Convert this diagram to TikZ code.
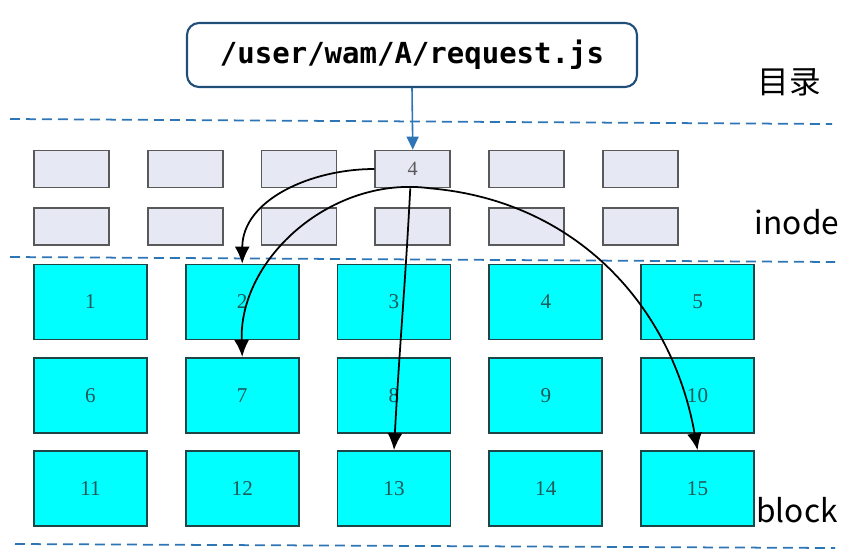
\documentclass[tikz,border=0pt]{standalone}
\usepackage{fontspec}
\setmainfont{Noto Sans CJK SC}
\newfontfamily\numfont{Liberation Serif}
\newfontfamily\pathfont{DejaVu Sans Mono}
\usetikzlibrary{arrows.meta,positioning}

\definecolor{lineblue}{HTML}{2E75B6}
\definecolor{boxblue}{HTML}{1F4E79}
\definecolor{inodefill}{HTML}{E6E8F4}
\definecolor{blockfill}{HTML}{00FFFF}
\definecolor{blockdraw}{HTML}{1E4646}
\definecolor{numcolor}{HTML}{1F5858}

\begin{document}
\begin{tikzpicture}[
    node distance=0.37cm and 0.74cm,
    inode/.style={draw=black!65, line width=1pt, fill=inodefill, minimum width=1.5cm, minimum height=0.74cm, inner sep=0pt, font=\numfont\fontsize{11.5}{13}\selectfont, text=black!65},
    block/.style={draw=blockdraw, line width=1pt, fill=blockfill, minimum width=2.26cm, minimum height=1.5cm, inner sep=0pt, font=\numfont\fontsize{12}{14}\selectfont, text=numcolor},
    pathbox/.style={draw=boxblue, line width=1.2pt, rounded corners=0.24cm, minimum width=9cm, minimum height=1.28cm, font=\pathfont\bfseries\fontsize{16.5}{18}\selectfont},
    sidetext/.style={inner sep=0pt, font=\fontsize{18}{20}\selectfont},
    sep/.style={lineblue, line width=1pt, dash pattern=on 0.2cm off 0.12cm},
    arrow/.style={-{Latex[length=0.34cm,width=0.3cm]}, line width=1pt},
]
    \useasboundingbox (0,0) rectangle (17.02,-11.1);

    % File path
    \node [pathbox] (path) at (8.24,-1.10) {/user/wam/A/request.js};

    % Separators
    \draw [sep] (0.2,-2.38) -- (16.64,-2.48);
    \draw [sep] (0.2,-5.14) -- (16.7,-5.24);
    \draw [sep] (0.3,-10.88) -- (16.7,-10.96);

    % Layer names
    \node [sidetext] (dir) at (15.78,-1.64) {目录};
    \node [sidetext] (inodes) at (15.94,-4.44) {inode};
    \node [sidetext] (blocks) at (15.94,-10.2) {block};

    % Inode table
    \node [inode] (i1) at (1.43,-3.38) {};
    \node [inode, right=of i1] (i2) {};
    \node [inode, right=of i2] (i3) {};
    \node [inode, right=of i3] (i4) {4};
    \node [inode, right=of i4] (i5) {};
    \node [inode, right=of i5] (i6) {};

    \node [inode, below=of i1] (i7) {};
    \node [inode, below=of i2] (i8) {};
    \node [inode, below=of i3] (i9) {};
    \node [inode, below=of i4] (i10) {};
    \node [inode, below=of i5] (i11) {};
    \node [inode, below=of i6] (i12) {};

    % Data blocks
    \node [block] (b1) at (1.81,-6.04) {1};
    \node [block, right=of b1] (b2) {2};
    \node [block, right=of b2] (b3) {3};
    \node [block, right=of b3] (b4) {4};
    \node [block, right=of b4] (b5) {5};

    \node [block, below=0.33cm of b1] (b6) {6};
    \node [block, below=0.33cm of b2] (b7) {7};
    \node [block, below=0.33cm of b3] (b8) {8};
    \node [block, below=0.33cm of b4] (b9) {9};
    \node [block, below=0.33cm of b5] (b10) {10};

    \node [block, below=0.33cm of b6] (b11) {11};
    \node [block, below=0.33cm of b7] (b12) {12};
    \node [block, below=0.33cm of b8] (b13) {13};
    \node [block, below=0.33cm of b9] (b14) {14};
    \node [block, below=0.33cm of b10] (b15) {15};

    % Arrows
    \draw [lineblue, line width=0.9pt, -{Triangle[length=0.26cm,width=0.24cm]}] (path.south) -- (i4.north);
    \draw [arrow] (i4.west) to[out=180, in=90] (b2.north);
    \draw [arrow] ([xshift=0.36cm]i4.south) to[out=172, in=92] (b7.north);
    \draw [arrow] ([xshift=-0.05cm]i4.south) to[out=-93, in=87] (b13.north);
    \draw [arrow] ([xshift=0.36cm]i4.south) to[out=-5, in=100] (b15.north);

\end{tikzpicture}
\end{document}
